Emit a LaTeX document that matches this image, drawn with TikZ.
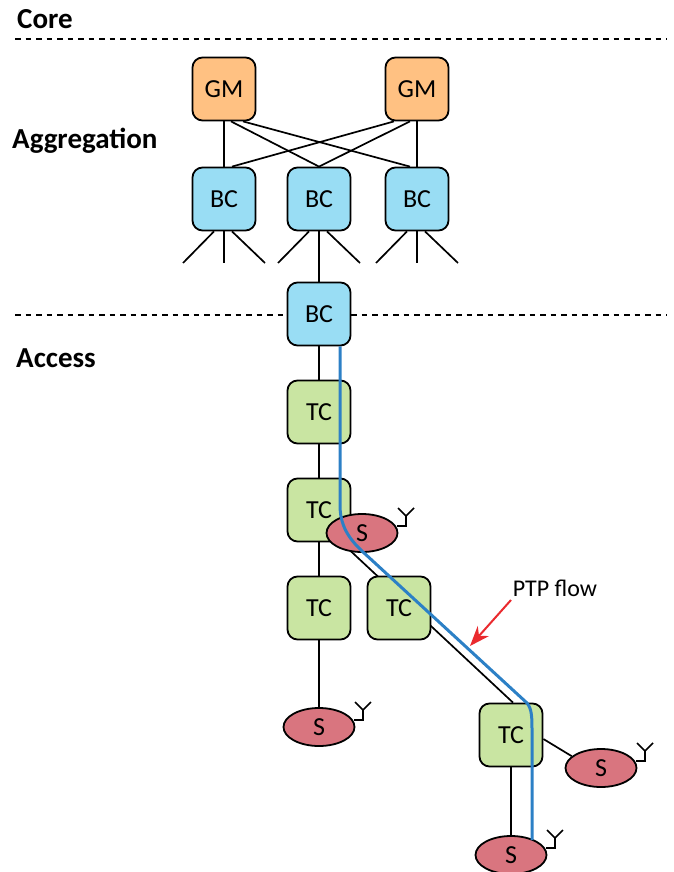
\documentclass[tikz,border=0pt]{standalone}
\usepackage{fontspec}
\setmainfont{Carlito}
\usepackage{tikz}
\usetikzlibrary{positioning,shapes.geometric,arrows.meta,backgrounds}

\definecolor{gmfill}{HTML}{FFC182}
\definecolor{bcfill}{HTML}{99DDF4}
\definecolor{tcfill}{HTML}{C9E5A2}
\definecolor{sfill}{HTML}{D9757F}
\definecolor{flowblue}{HTML}{2C80C6}
\definecolor{flowred}{HTML}{EA2A2E}

\tikzset{
  clock/.style={draw,line width=1.8pt,rounded corners=10pt,minimum size=63pt,inner sep=0pt,font=\fontsize{26}{26}\selectfont},
  gm/.style={clock,fill=gmfill},
  bc/.style={clock,fill=bcfill},
  tc/.style={clock,fill=tcfill},
  slave/.style={draw,ellipse,line width=1.8pt,fill=sfill,minimum width=71pt,minimum height=38pt,inner sep=0pt,font=\fontsize{26}{26}\selectfont},
  level/.style={font=\fontsize{29}{29}\selectfont\bfseries,anchor=west,inner sep=0pt},
  boundary/.style={line width=1.6pt,dash pattern=on 5.5pt off 5pt},
  link/.style={line width=1.7pt}
}

\begin{document}
\begin{tikzpicture}[x=1pt,y=1pt,on grid]
      \clip (0,0) rectangle (673,-872);
      \node[level] (core) at (17,-19) {Core};
      \node[level] (aggregation) at (12,-141) {Aggregation};
      \node[level] (access) at (16,-358) {Access};

      \node[gm] (GM_1) at (224,-89) {GM};
      \node[gm] (GM_2) [right=193pt of GM_1] {GM};
      \node[bc] (BC_1) [below=110pt of GM_1] {BC};
      \node[bc] (BC_2) [right=95pt of BC_1] {BC};
      \node[bc] (BC_3) [right=98pt of BC_2] {BC};
      \node[bc] (BC_4) [below=115pt of BC_2] {BC};
      \node[tc] (TC_1) [below=98pt of BC_4] {TC};
      \node[tc] (TC_2) [below=98pt of TC_1] {TC};
      \node[tc] (TC_3) [below=98pt of TC_2] {TC};
      \node[tc] (TC_4) [right=80pt of TC_3] {TC};
      \node[tc] (TC_5) [below right=127pt and 112pt of TC_4] {TC};
      \node[slave] (S_1) [below right=23pt and 43pt of TC_2] {S};
      \node[slave] (S_2) [below=119pt of TC_3] {S};
      \node[slave] (S_3) [below right=33pt and 90pt of TC_5] {S};
      \node[slave] (S_4) [below=120pt of TC_5] {S};
      \node[font=\fontsize{24}{24}\selectfont] (ptp) at (555,-588) {PTP flow};

      \coordinate (core_l) at (15,-39);
      \coordinate (core_r) at (667,-39);
      \coordinate (access_l) at (15,-315);
      \coordinate (access_r) at (667,-315);
      \coordinate (tip) at (470,-646);
      \coordinate (tail) at (511,-600);
      \coordinate (bend_a) at (340,-505);
      \coordinate (bend_b) at (363,-552);
      \coordinate (bend_c) at (527,-703);
      \coordinate (bend_d) at (532,-732);
      \coordinate (flow_end) at (532,-840);

      \begin{scope}[on background layer]
      \draw[boundary] (core_l) -- (core_r);
      \draw[boundary] (access_l) -- (access_r);
      \draw[link] (GM_1) -- (BC_1);
      \draw[link] ([xshift=7pt]GM_1.south) -- (BC_2.north);
      \draw[link] ([xshift=19pt]GM_1.south) -- ([xshift=-7pt]BC_3.north);
      \draw[link] (GM_2) -- (BC_3);
      \draw[link] ([xshift=-7pt]GM_2.south) -- (BC_2.north);
      \draw[link] ([xshift=-23pt]GM_2.south) -- ([xshift=8pt]BC_1.north);
      \draw[link] (BC_2) -- (BC_4);
      \draw[link] (BC_4) -- (TC_1);
      \draw[link] (TC_1) -- (TC_2);
      \draw[link] (TC_2) -- (TC_3);
      \draw[link] ([xshift=-10pt]TC_2.south east) -- ([xshift=2pt]TC_5.north);
      \draw[link] (TC_3) -- (S_2);
      \draw[link] ([yshift=-4pt]TC_5.east) -- (S_3.158);
      \draw[link] (TC_5) -- (S_4);
      \end{scope}

      % stubs below the aggregation boxes
      \foreach \b in {BC_1,BC_2,BC_3} {
        \coordinate (\b_l) at ([xshift=-41pt,yshift=-64pt]\b.center);
        \coordinate (\b_m) at ([yshift=-64pt]\b.center);
        \coordinate (\b_r) at ([xshift=41pt,yshift=-64pt]\b.center);
        \draw[link] ([xshift=-10pt]\b.south) -- (\b_l);
        \draw[link] (\b.south) -- (\b_m);
        \draw[link] ([xshift=8pt]\b.south) -- (\b_r);
      }

      % antennas
      \foreach \s in {S_1,S_2,S_3,S_4} {
        \coordinate (\s_a) at ([xshift=44pt,yshift=7pt]\s.center);
        \coordinate (\s_b) at ([xshift=44pt,yshift=17pt]\s.center);
        \coordinate (\s_c) at ([xshift=36pt,yshift=25pt]\s.center);
        \coordinate (\s_d) at ([xshift=52pt,yshift=25pt]\s.center);
        \draw[link] ([xshift=35pt,yshift=7pt]\s.center) -- (\s_a) -- (\s_b) -- (\s_c);
        \draw[link] (\s_b) -- (\s_d);
      }

      \draw[line width=3pt,flowblue] ([xshift=21pt]BC_4.south) -- (bend_a)
        .. controls (340,-525) and (348,-538) .. (bend_b) -- (bend_c)
        .. controls (532,-709) and (532,-718) .. (bend_d) -- (flow_end);
      \draw[line width=2pt,flowred,-{Stealth[length=20pt,width=15pt]}] (tail) -- (tip);
\end{tikzpicture}
\end{document}
